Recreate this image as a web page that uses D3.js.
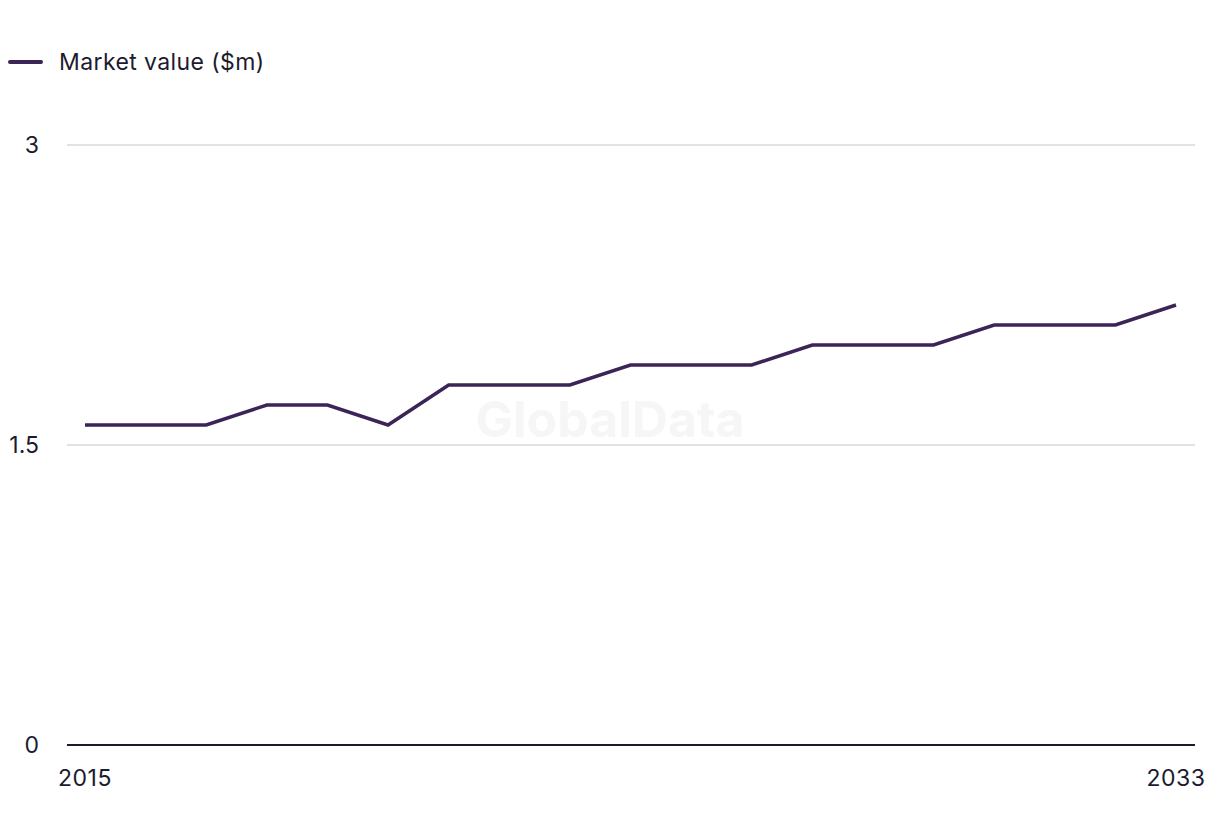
<!DOCTYPE html>
<html><head><meta charset="utf-8">
<script src="https://cdn.jsdelivr.net/npm/d3@7"></script>
<style>html,body{margin:0;padding:0;background:#fff;}</style>
</head><body><svg id="c" width="1220" height="836"></svg>
<script>
const years = [2015,2016,2017,2018,2019,2020,2021,2022,2023,2024,2025,2026,2027,2028,2029,2030,2031,2032,2033];
const marketValue = [1.6,1.6,1.6,1.7,1.7,1.6,1.8,1.8,1.8,1.9,1.9,1.9,2.0,2.0,2.0,2.1,2.1,2.1,2.2];
const yTicks = [0,1.5,3];
const xTickLabels = [2015,2033];
const seriesName = "Market value ($m)";

const svg = d3.select("#c");
const font = "Inter, 'Liberation Sans', Arial, sans-serif";
const textColor = "#1c1b2e";
const lineColor = "#3a2556";

const x = d3.scaleLinear().domain([2015,2033]).range([85,1176]);
const y = d3.scaleLinear().domain([0,3]).range([745,145]);

// watermark
svg.append("text").attr("x",610).attr("y",437).attr("text-anchor","middle")
  .attr("font-family",font).attr("font-weight","bold").attr("font-size",50)
  .attr("fill","#f6f6f6").text("GlobalData");

// gridlines
svg.append("g").selectAll("line").data(yTicks.filter(d=>d>0)).join("line")
  .attr("x1",67).attr("x2",1195).attr("y1",d=>y(d)).attr("y2",d=>y(d))
  .attr("stroke","#d9d9d9").attr("stroke-width",1.5);

// y labels
svg.append("g").selectAll("text").data(yTicks).join("text")
  .attr("x",39).attr("y",d=>y(d)+8).attr("text-anchor","end")
  .attr("font-family",font).attr("font-size",23).attr("fill",textColor)
  .text(d=>d);

// x axis line
svg.append("line").attr("x1",67).attr("x2",1195).attr("y1",y(0)).attr("y2",y(0))
  .attr("stroke","#1c1b2e").attr("stroke-width",2);

// x labels
svg.append("g").selectAll("text").data(xTickLabels).join("text")
  .attr("x",d=>x(d)).attr("y",786).attr("text-anchor","middle")
  .attr("font-family",font).attr("font-size",23).attr("letter-spacing",0.5).attr("fill",textColor)
  .text(d=>d);

// line
const line = d3.line().x((d,i)=>x(years[i])).y(d=>y(d));
svg.append("path").datum(marketValue).attr("d",line)
  .attr("fill","none").attr("stroke",lineColor).attr("stroke-width",3.5)
  .attr("stroke-linejoin","miter");

// legend
svg.append("line").attr("x1",10).attr("x2",41).attr("y1",62).attr("y2",62)
  .attr("stroke",lineColor).attr("stroke-width",4).attr("stroke-linecap","round");
svg.append("text").attr("x",59).attr("y",70)
  .attr("font-family",font).attr("font-size",23).attr("letter-spacing",0.4).attr("fill",textColor)
  .text(seriesName);
</script></body></html>
